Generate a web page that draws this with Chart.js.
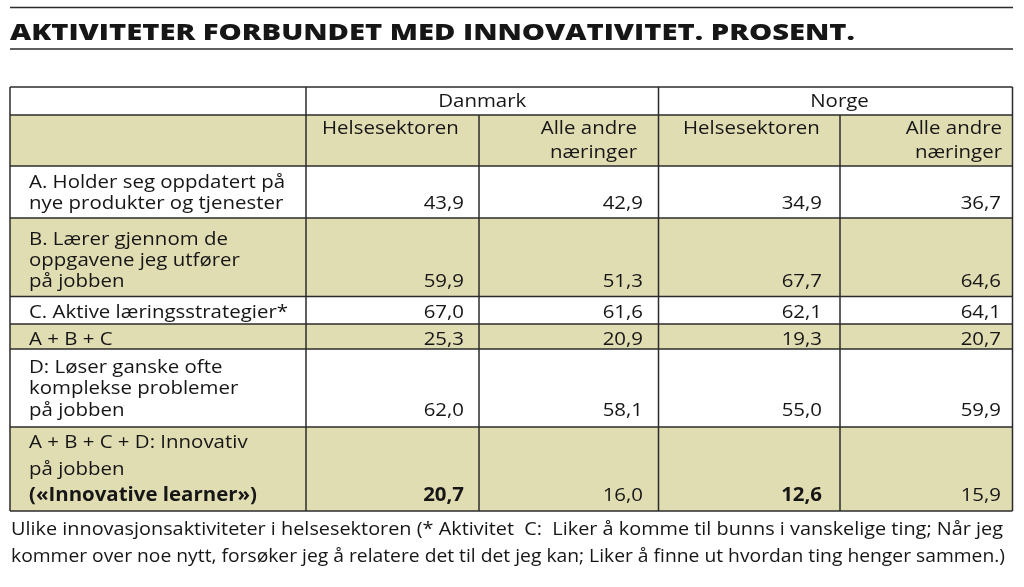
<!DOCTYPE html>
<html><head><meta charset="utf-8">
<script src="https://cdn.jsdelivr.net/npm/chart.js@4"></script>
<style>html,body{margin:0;padding:0;background:#fff}#wrap{width:1024px;height:587px;position:relative}canvas{display:block}</style>
</head><body><div id="wrap"><canvas id="c" width="1024" height="587"></canvas></div>
<script>
// ---- data ----
const title = 'AKTIVITETER FORBUNDET MED INNOVATIVITET. PROSENT.';
const countries = ['Danmark', 'Norge'];
const sectors = [['Helsesektoren'], ['Alle andre', 'næringer']];
const rowLabels = [
  ['A. Holder seg oppdatert på', 'nye produkter og tjenester'],
  ['B. Lærer gjennom de', 'oppgavene jeg utfører', 'på jobben'],
  ['C. Aktive læringsstrategier*'],
  ['A + B + C'],
  ['D: Løser ganske ofte', 'komplekse problemer', 'på jobben'],
  ['A + B + C + D: Innovativ', 'på jobben', '(«Innovative learner»)']
];
const dkHelse = [43.9, 59.9, 67.0, 25.3, 62.0, 20.7];
const dkAndre = [42.9, 51.3, 61.6, 20.9, 58.1, 16.0];
const noHelse = [34.9, 67.7, 62.1, 19.3, 55.0, 12.6];
const noAndre = [36.7, 64.6, 64.1, 20.7, 59.9, 15.9];
const boldCells = ['5-0', '5-2'];
const boldLabelLines = ['5-2'];
const caption = [
  'Ulike innovasjonsaktiviteter i helsesektoren (* Aktivitet  C:  Liker å komme til bunns i vanskelige ting; Når jeg',
  'kommer over noe nytt, forsøker jeg å relatere det til det jeg kan; Liker å finne ut hvordan ting henger sammen.)'
];

// ---- layout / style ----
const colX = [10, 306, 479, 658.5, 840, 1012.5];
const rowY = [87, 115, 166, 218, 296.5, 324, 349, 427, 511];
const shadedRows = [1, 3, 5, 7];
const firstBase = [21.5, 26.5, 21.5, 21, 23.5, 21];
const lineH = [21, 21.3, 21, 21, 21.5, 26.7];
const valueRight = [464, 643, 822, 1001];
const TAN = '#e1ddb3', LINE = '#2b2b2b', INK = '#161616';
const FONT = '"Open Sans", sans-serif';

const fmt = v => v.toFixed(1).replace('.', ',');

const tablePlugin = {
  id: 'tablePlugin',
  afterDraw(chart) {
    const ctx = chart.ctx, xs = chart.scales.x, ys = chart.scales.y;
    const X = v => xs.getPixelForValue(v), Y = v => ys.getPixelForValue(v);
    const series = [dkHelse, dkAndre, noHelse, noAndre];

    function txt(s, x, y, align, font, sx) {
      ctx.save();
      ctx.font = font;
      ctx.fillStyle = INK;
      ctx.textBaseline = 'alphabetic';
      ctx.textAlign = align;
      ctx.translate(X(x), Y(y));
      ctx.scale(sx, 1);
      ctx.fillText(s, 0, 0);
      ctx.restore();
    }
    function fit(s, font, w) {
      ctx.save(); ctx.font = font; const m = ctx.measureText(s).width; ctx.restore();
      return w / m;
    }

    // title
    const tFont = '800 23px ' + FONT;
    const tsx = fit(title, tFont, 845);
    ctx.save();
    ctx.strokeStyle = LINE; ctx.lineWidth = 1.5;
    [7.5, 49].forEach(yy => { ctx.beginPath(); ctx.moveTo(X(10), Y(yy)); ctx.lineTo(X(1013), Y(yy)); ctx.stroke(); });
    ctx.restore();
    txt(title, 10, 39.5, 'left', tFont, tsx);

    // shaded rows
    ctx.save();
    ctx.fillStyle = TAN;
    shadedRows.forEach(r => {
      ctx.fillRect(X(colX[0]), Y(rowY[r]), X(colX[5]) - X(colX[0]), Y(rowY[r + 1]) - Y(rowY[r]));
    });
    ctx.restore();

    // grid lines
    ctx.save();
    ctx.strokeStyle = LINE; ctx.lineWidth = 1.5;
    rowY.forEach(yy => { ctx.beginPath(); ctx.moveTo(X(colX[0]), Y(yy)); ctx.lineTo(X(colX[5]), Y(yy)); ctx.stroke(); });
    colX.forEach((xx, i) => {
      const top = (i === 2 || i === 4) ? rowY[1] : rowY[0];
      ctx.beginPath(); ctx.moveTo(X(xx), Y(top)); ctx.lineTo(X(xx), Y(rowY[8])); ctx.stroke();
    });
    ctx.restore();

    const nFont = '19px ' + FONT, bFont = 'bold 19px ' + FONT;
    const sx = fit(rowLabels[0][0], nFont, 256);

    txt(countries[0], (colX[1] + colX[3]) / 2, 107, 'center', nFont, sx);
    txt(countries[1], (colX[3] + colX[5]) / 2 + 4, 107, 'center', nFont, sx);
    txt(sectors[0][0], 322, 134, 'left', nFont, sx);
    txt(sectors[0][0], 683, 134, 'left', nFont, sx);
    [637, 1002].forEach(rx => {
      sectors[1].forEach((s, k) => txt(s, rx, 134 + k * 24, 'right', nFont, sx));
    });

    rowLabels.forEach((lines, i) => {
      const top = rowY[i + 2];
      lines.forEach((s, k) => {
        const f = boldLabelLines.includes(i + '-' + k) ? bFont : nFont;
        txt(s, 29, top + firstBase[i] + k * lineH[i], 'left', f, sx);
      });
      const vb = top + firstBase[i] + (lines.length - 1) * lineH[i];
      series.forEach((arr, c) => {
        const f = boldCells.includes(i + '-' + c) ? bFont : nFont;
        txt(fmt(arr[i]), valueRight[c], vb, 'right', f, sx);
      });
    });

    const cFont = '19px ' + FONT;
    txt(caption[0], 11, 535, 'left', cFont, fit(caption[0], cFont, 992));
    txt(caption[1], 11, 562, 'left', cFont, fit(caption[1], cFont, 994));
  }
};

function build() {
  new Chart(document.getElementById('c'), {
    type: 'scatter',
    data: { datasets: [{ data: [], showLine: false }] },
    options: {
      responsive: false,
      animation: false,
      events: [],
      layout: { padding: 0 },
      plugins: { legend: { display: false }, tooltip: { enabled: false }, title: { display: false } },
      scales: {
        x: { type: 'linear', min: 0, max: 1024, display: false },
        y: { type: 'linear', min: 0, max: 587, reverse: true, display: false }
      }
    },
    plugins: [tablePlugin]
  });
}
Promise.all([
  document.fonts.load('19px "Open Sans"'),
  document.fonts.load('bold 19px "Open Sans"'),
  document.fonts.load('800 23px "Open Sans"')
]).then(build, build);
</script>
</body></html>
